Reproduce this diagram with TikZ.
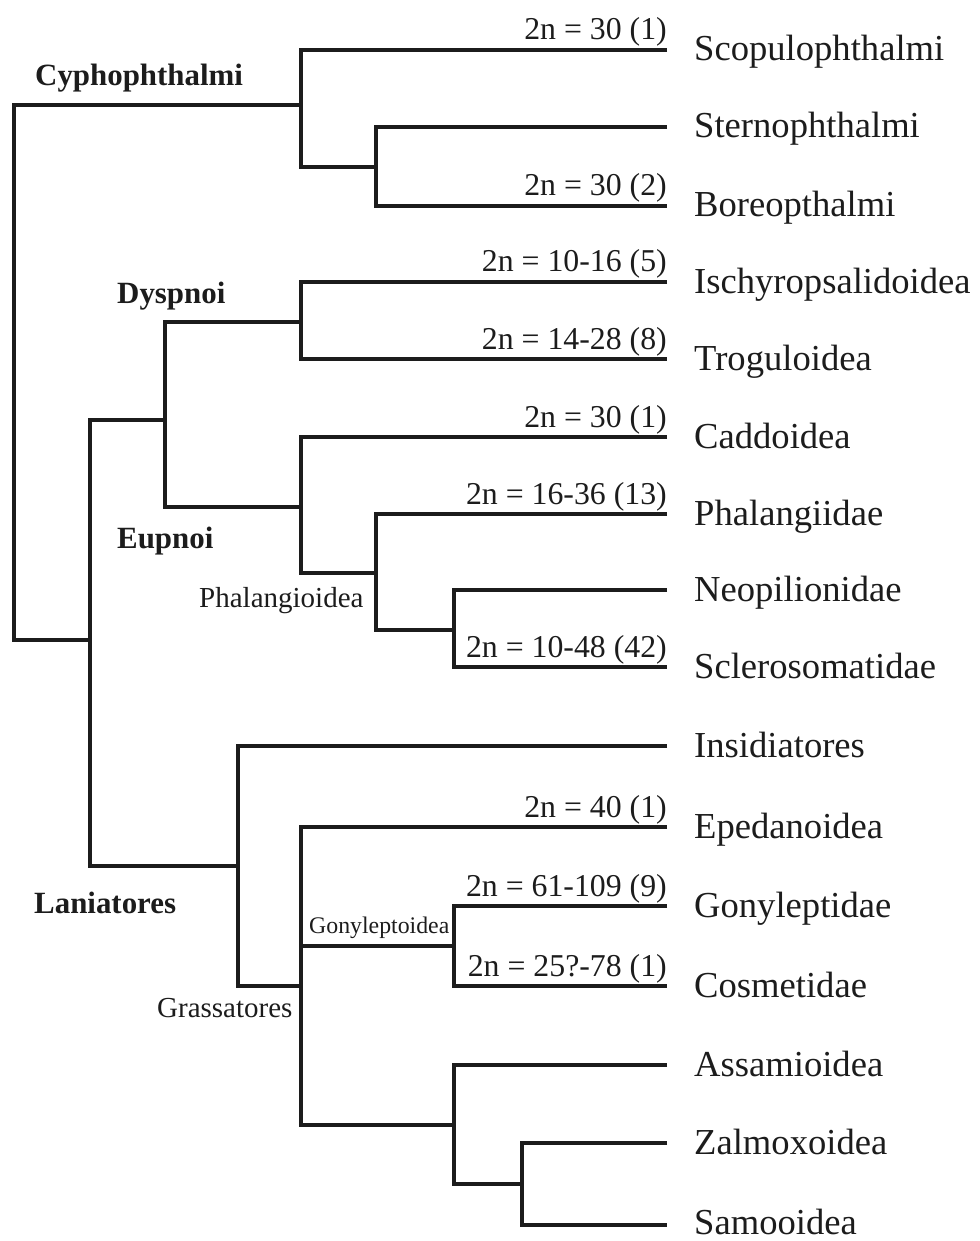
\documentclass[tikz,border=0pt]{standalone}
\usepackage{fontspec}
\setmainfont{Liberation Serif}
\begin{document}
\begin{tikzpicture}[x=1pt,y=-1pt,
  br/.style={line width=4.5pt,draw=ink,line join=miter},
  taxon/.style={anchor=base west,inner sep=0pt,text=ink,font=\fontsize{36.6}{40}\selectfont},
  karyo/.style={anchor=base east,inner sep=0pt,text=ink,font=\fontsize{31.8}{34}\selectfont},
  clade/.style={anchor=base west,inner sep=0pt,text=ink,font=\bfseries\fontsize{30.9}{34}\selectfont},
  subclade/.style={anchor=base west,inner sep=0pt,text=ink,font=\fontsize{29}{32}\selectfont},
  smallclade/.style={anchor=base west,inner sep=0pt,text=ink,font=\fontsize{23.8}{26}\selectfont}]
\definecolor{ink}{HTML}{1C1C1C}
\useasboundingbox (0,0) rectangle (979,1241);
% leaf tips
\foreach \n/\y in {scop/50,ster/127,bore/206,isch/282,trog/359,cadd/437,phal/514,neop/590,scle/667,insi/746,eped/827,gony/906,cosm/986,assa/1065,zalm/1143,samo/1225}
  \coordinate (\n) at (667,\y);
% internal nodes
\coordinate (root) at (14,372);
\coordinate (cyph) at (301,105);
\coordinate (sb) at (376,167);
\coordinate (pal) at (90,640);
\coordinate (de) at (165,420);
\coordinate (dysp) at (301,322);
\coordinate (eupn) at (301,507);
\coordinate (phoid) at (376,573);
\coordinate (ns) at (454,630);
\coordinate (lani) at (238,866);
\coordinate (gras) at (301,986);
\coordinate (gonoid) at (454,946);
\coordinate (asz) at (454,1125);
\coordinate (zs) at (522,1184);
% branches
\draw[br] (cyph) -| (root) |- (pal);
\draw[br] (scop) -| (cyph) |- (sb);
\draw[br] (ster) -| (sb) |- (bore);
\draw[br] (de) -| (pal) |- (lani);
\draw[br] (dysp) -| (de) |- (eupn);
\draw[br] (isch) -| (dysp) |- (trog);
\draw[br] (cadd) -| (eupn) |- (phoid);
\draw[br] (phal) -| (phoid) |- (ns);
\draw[br] (neop) -| (ns) |- (scle);
\draw[br] (insi) -| (lani) |- (gras);
\draw[br] (eped) -| (gras) |- (asz);
\draw[br] (gras |- gonoid) -- (gonoid);
\draw[br] (gony) -| (gonoid) |- (cosm);
\draw[br] (assa) -| (asz) |- (zs);
\draw[br] (zalm) -| (zs) |- (samo);
% taxon labels
\node[taxon] (tscop) at (694,61) {Scopulophthalmi};
\node[taxon] (tster) at (694,138) {Sternophthalmi};
\node[taxon] (tbore) at (694,217) {Boreopthalmi};
\node[taxon] (tisch) at (694,293) {Ischyropsalidoidea};
\node[taxon] (ttrog) at (694,370) {Troguloidea};
\node[taxon] (tcadd) at (694,448) {Caddoidea};
\node[taxon] (tphal) at (694,525) {Phalangiidae};
\node[taxon] (tneop) at (694,601) {Neopilionidae};
\node[taxon] (tscle) at (694,678) {Sclerosomatidae};
\node[taxon] (tinsi) at (694,757) {Insidiatores};
\node[taxon] (teped) at (694,838) {Epedanoidea};
\node[taxon] (tgony) at (694,917) {Gonyleptidae};
\node[taxon] (tcosm) at (694,997) {Cosmetidae};
\node[taxon] (tassa) at (694,1076) {Assamioidea};
\node[taxon] (tzalm) at (694,1154) {Zalmoxoidea};
\node[taxon] (tsamo) at (694,1234) {Samooidea};
% karyotype labels
\node[karyo] (kscop) at (667,40) {2n = 30 (1)};
\node[karyo] (kbore) at (667,196) {2n = 30 (2)};
\node[karyo] (kisch) at (667,272) {2n = 10-16 (5)};
\node[karyo] (ktrog) at (667,349) {2n = 14-28 (8)};
\node[karyo] (kcadd) at (667,427) {2n = 30 (1)};
\node[karyo] (kphal) at (667,504) {2n = 16-36 (13)};
\node[karyo] (kscle) at (667,657) {2n = 10-48 (42)};
\node[karyo] (keped) at (667,817) {2n = 40 (1)};
\node[karyo] (kgony) at (667,896) {2n = 61-109 (9)};
\node[karyo] (kcosm) at (667,976) {2n = 25?-78 (1)};
% clade labels
\node[clade] (lcyph) at (35,86) {Cyphophthalmi};
\node[clade] (ldysp) at (117,303) {Dyspnoi};
\node[clade] (leupn) at (117,548) {Eupnoi};
\node[clade] (llani) at (34,913) {Laniatores};
\node[subclade] (lphoid) at (199,607) {Phalangioidea};
\node[subclade] (lgras) at (157,1017) {Grassatores};
\node[smallclade] (lgonoid) at (309,933) {Gonyleptoidea};
\end{tikzpicture}
\end{document}
